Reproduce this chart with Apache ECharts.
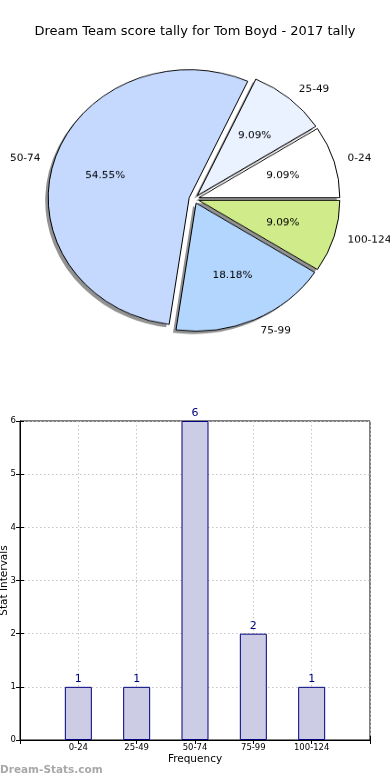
<!DOCTYPE html>
<html>
<head>
<meta charset="utf-8">
<script src="https://cdn.jsdelivr.net/npm/echarts@6/dist/echarts.min.js"></script>
<style>
html,body{margin:0;padding:0;background:#fff;}
#main{position:absolute;left:0;top:0;width:390px;height:780px;}
#pie{position:absolute;left:0;top:0;width:390px;height:400px;pointer-events:none;transform-origin:194px 199px;transform:scaleY(0.908);}
</style>
</head>
<body>
<div id="main"></div>
<div id="pie"></div>
<script>
const titleText = 'Dream Team score tally for Tom Boyd - 2017 tally';
const categories = ['0-24', '25-49', '50-74', '75-99', '100-124'];
const counts = [1, 1, 6, 2, 1];
const yTicks = [0, 1, 2, 3, 4, 5, 6];
const sliceColors = ['#ffffff', '#eaf1ff', '#c5d9ff', '#b3d6ff', '#d0eb8a'];
const FONT = 'DejaVu Sans';

const total = counts.reduce((a, b) => a + b, 0);

const main = echarts.init(document.getElementById('main'), null, {renderer: 'canvas'});
main.setOption({
  animation: false,
  backgroundColor: '#fff',
  textStyle: {fontFamily: FONT},
  title: {
    text: titleText, left: 'center', top: 20,
    textStyle: {fontFamily: FONT, fontSize: 13, fontWeight: 'normal', color: '#000'}
  },
  graphic: [{
    type: 'text', left: 0, top: 765,
    style: {text: 'Dream-Stats.com', fontFamily: FONT, fontSize: 10.5, fontWeight: 'bold', fill: '#a8a8a8'}
  }],
  grid: {left: 20, right: 20, top: 421, bottom: 40, show: true, borderColor: '#000', borderWidth: 1,
    backgroundColor: 'transparent', containLabel: false, outerBoundsMode: 'none'},
  xAxis: [{
    type: 'value', min: 0, max: 6, interval: 1, position: 'bottom',
    name: 'Frequency', nameLocation: 'middle', nameGap: 14, nameMoveOverlap: false,
    nameTextStyle: {fontFamily: FONT, fontSize: 10.5, color: '#000'},
    axisLine: {show: true, lineStyle: {color: '#000', width: 1}},
    axisTick: {show: true, inside: true, length: 4, lineStyle: {color: '#000'}},
    axisLabel: {fontFamily: FONT, fontSize: 8.5, color: '#000', margin: 3,
      formatter: v => categories[v - 1] || ''},
    splitLine: {show: true, lineStyle: {color: '#c4c4c4', type: [1.5, 2.5], width: 1}}
  }, {
    type: 'value', min: 0, max: 6, interval: 1, position: 'top',
    axisLine: {show: false}, axisLabel: {show: false}, splitLine: {show: false},
    axisTick: {show: true, inside: true, length: 4, lineStyle: {color: '#000'}}
  }],
  yAxis: [{
    type: 'value', min: yTicks[0], max: yTicks[yTicks.length - 1], interval: 1, position: 'left',
    name: 'Stat Intervals', nameLocation: 'middle', nameGap: 10, nameRotate: 90, nameMoveOverlap: false,
    nameTextStyle: {fontFamily: FONT, fontSize: 10.5, color: '#000'},
    axisLine: {show: true, lineStyle: {color: '#000', width: 1}},
    axisTick: {show: true, inside: true, length: 4, lineStyle: {color: '#000'}},
    axisLabel: {fontFamily: FONT, fontSize: 8.5, color: '#000', margin: 4},
    splitLine: {show: true, lineStyle: {color: '#c4c4c4', type: [1.5, 2.5], width: 1}}
  }, {
    type: 'value', min: 0, max: 6, interval: 1, position: 'right',
    axisLine: {show: false}, axisLabel: {show: false}, splitLine: {show: false},
    axisTick: {show: true, inside: true, length: 4, lineStyle: {color: '#000'}}
  }],
  series: [{
    type: 'bar',
    data: counts.map((v, i) => [i + 1, v]),
    barWidth: 27,
    itemStyle: {color: '#ccccE4', borderColor: '#00007f', borderWidth: 1},
    label: {show: true, position: 'top', distance: 2, fontFamily: FONT, fontSize: 11, color: '#00007f',
      formatter: p => String(p.value[1])},
    emphasis: {disabled: true},
    silent: true
  }]
});

const pie = echarts.init(document.getElementById('pie'), null, {renderer: 'canvas'});
const R = 141;
const CX = 194, CY = 199;
const common = {
  type: 'pie', startAngle: 0, clockwise: false, avoidLabelOverlap: false,
  selectedMode: 'multiple', selectedOffset: 5, silent: true, emphasis: {disabled: true}
};
pie.setOption({
  animation: false,
  backgroundColor: 'transparent',
  series: [Object.assign({}, common, {
    // shadow layer
    center: [CX - 3, CY + 3.2],
    radius: [0, R],
    itemStyle: {color: '#929292', borderWidth: 0},
    label: {show: false}, labelLine: {show: false},
    data: categories.map((c, i) => ({name: c, value: counts[i], selected: true,
      select: {itemStyle: {color: '#929292'}}}))
  }), Object.assign({}, common, {
    center: [CX, CY],
    radius: [0, R],
    itemStyle: {borderColor: '#000', borderWidth: 1},
    label: {show: true, position: 'outside', fontFamily: FONT, fontSize: 10.5, color: '#000',
      distanceToLabelLine: 0, formatter: '{b}'},
    labelLine: {show: false, length: 14, length2: 0},
    data: categories.map((c, i) => ({name: c, value: counts[i], selected: true,
      itemStyle: {color: sliceColors[i]}, select: {itemStyle: {color: sliceColors[i]}}}))
  }), Object.assign({}, common, {
    center: [CX, CY],
    radius: [R * 0.2, R],
    itemStyle: {color: 'rgba(0,0,0,0)', borderWidth: 0},
    label: {show: true, position: 'inside', fontFamily: FONT, fontSize: 10.5, color: '#000',
      formatter: p => (p.value / total * 100).toFixed(2) + '%'},
    labelLine: {show: false},
    data: categories.map((c, i) => ({name: c, value: counts[i], selected: true,
      select: {itemStyle: {color: 'rgba(0,0,0,0)'}}}))
  })]
});
</script>
</body>
</html>
